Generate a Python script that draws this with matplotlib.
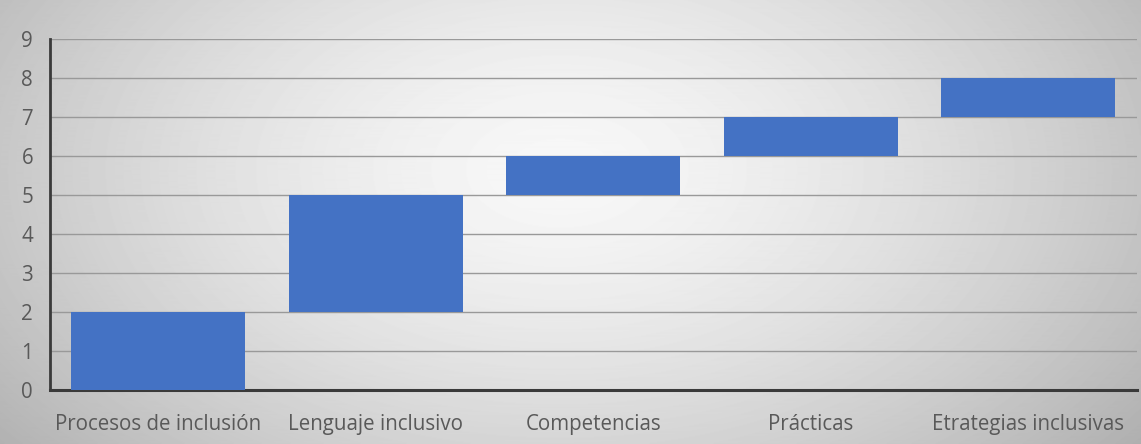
import numpy as np
import matplotlib.pyplot as plt

categories = ["Procesos de inclusión", "Lenguaje inclusivo", "Competencias",
              "Prácticas", "Etrategias inclusivas"]
start_values = [0, 2, 5, 6, 7]
end_values = [2, 5, 6, 7, 8]
y_ticks = list(range(0, 10))

plt.rcParams['font.family'] = ['Open Sans', 'DejaVu Sans']

fig = plt.figure(figsize=(11.41, 4.44), dpi=100)

# radial gray gradient background
bg = fig.add_axes([0, 0, 1, 1], zorder=0)
h, w = 444, 1141
yy, xx = np.mgrid[0:h, 0:w]
r = np.sqrt(((xx - 560) / 620.0) ** 2 + ((yy - 170) / 380.0) ** 2)
shade = 0.97 - 0.22 * np.clip(r, 0, 1.3) ** 1.5
bg.imshow(shade, cmap="gray", vmin=0, vmax=1, aspect="auto",
          extent=[0, 1, 0, 1], origin="upper")
bg.axis("off")

ax = fig.add_axes([0.0436, 0.1216, 0.9529, 0.7906], zorder=1)
ax.patch.set_alpha(0)

x = np.arange(len(categories))
heights = [e - s for s, e in zip(start_values, end_values)]
ax.bar(x, heights, bottom=start_values, width=0.8, color="#4472C4", zorder=3)

ax.set_xlim(-0.5, len(categories) - 0.5)
ax.set_ylim(0, 9)
ax.set_yticks(y_ticks)
ax.set_xticks(x)
ax.set_xticklabels(categories)
ax.tick_params(axis="both", length=0, labelsize=14.8, colors="#595959")
ax.tick_params(axis="x", pad=17)
ax.tick_params(axis="y", pad=12)

ax.grid(axis="y", color="#999999", linewidth=1.0, zorder=1)
for side in ["top", "right"]:
    ax.spines[side].set_visible(False)
ax.spines["left"].set_color("#3a3a3a")
ax.spines["left"].set_linewidth(2)
ax.spines["bottom"].set_color("#3a3a3a")
ax.spines["bottom"].set_linewidth(2.2)

fig.savefig("out.png", dpi=100)
